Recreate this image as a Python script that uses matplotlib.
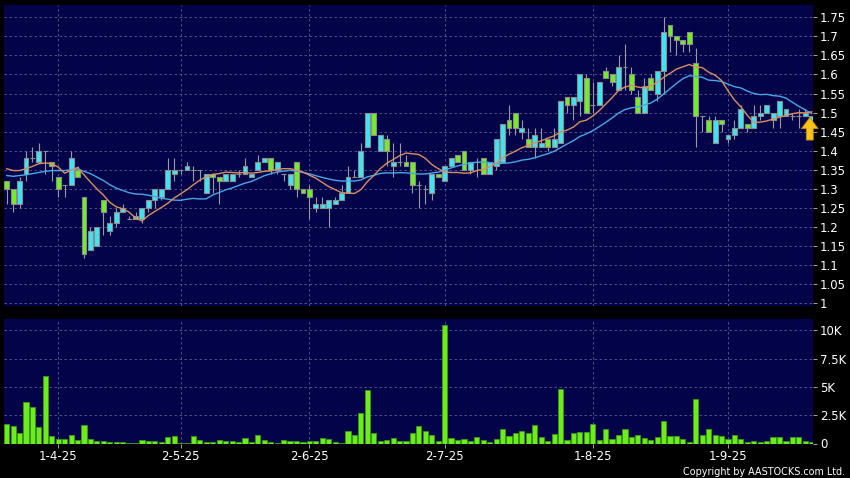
import matplotlib
matplotlib.use("Agg")
import matplotlib.pyplot as plt
import numpy as np
import pandas as pd

opens = [1.32, 1.30, 1.26, 1.34, 1.38, 1.37, 1.40, 1.37, 1.33, 1.31,
         1.31, 1.35, 1.28, 1.14, 1.15, 1.27, 1.19, 1.21, 1.24, 1.22,
         1.22, 1.22, 1.25, 1.27, 1.28, 1.30, 1.34, 1.35, 1.35, 1.35,
         1.35, 1.29, 1.34, 1.33, 1.32, 1.32, 1.34, 1.34, 1.33, 1.35,
         1.37, 1.38, 1.35, 1.34, 1.31, 1.37, 1.30, 1.30, 1.25, 1.25,
         1.25, 1.26, 1.27, 1.29, 1.33, 1.33, 1.41, 1.50, 1.40, 1.43,
         1.36, 1.37, 1.37, 1.37, 1.31, 1.30, 1.29, 1.34, 1.32, 1.36,
         1.39, 1.40, 1.35, 1.37, 1.38, 1.34, 1.36, 1.37, 1.48, 1.50,
         1.45, 1.43, 1.41, 1.41, 1.43, 1.41, 1.42, 1.54, 1.52, 1.53,
         1.59, 1.52, 1.52, 1.61, 1.60, 1.56, 1.62, 1.60, 1.54, 1.50,
         1.59, 1.55, 1.61, 1.73, 1.70, 1.69, 1.71, 1.63, 1.49, 1.48,
         1.42, 1.48, 1.43, 1.44, 1.46, 1.47, 1.46, 1.49, 1.50, 1.48,
         1.49, 1.49, 1.49, 1.49, 1.49, 1.46]
highs = [1.32, 1.30, 1.33, 1.40, 1.41, 1.42, 1.40, 1.37, 1.33, 1.31,
         1.40, 1.36, 1.28, 1.20, 1.20, 1.27, 1.23, 1.25, 1.26, 1.23,
         1.24, 1.25, 1.27, 1.30, 1.30, 1.38, 1.38, 1.35, 1.37, 1.36,
         1.35, 1.34, 1.34, 1.33, 1.34, 1.34, 1.35, 1.38, 1.34, 1.39,
         1.38, 1.38, 1.37, 1.34, 1.34, 1.37, 1.30, 1.31, 1.28, 1.28,
         1.27, 1.28, 1.31, 1.36, 1.35, 1.42, 1.50, 1.50, 1.44, 1.44,
         1.42, 1.42, 1.39, 1.37, 1.32, 1.31, 1.34, 1.34, 1.36, 1.38,
         1.39, 1.40, 1.37, 1.38, 1.38, 1.37, 1.43, 1.47, 1.52, 1.50,
         1.48, 1.46, 1.46, 1.46, 1.43, 1.46, 1.53, 1.54, 1.54, 1.60,
         1.60, 1.58, 1.58, 1.62, 1.60, 1.65, 1.68, 1.62, 1.56, 1.59,
         1.60, 1.61, 1.75, 1.73, 1.70, 1.69, 1.71, 1.67, 1.49, 1.49,
         1.49, 1.48, 1.44, 1.48, 1.52, 1.47, 1.52, 1.52, 1.52, 1.50,
         1.53, 1.51, 1.50, 1.51, 1.51, 1.49]
lows = [1.26, 1.24, 1.25, 1.32, 1.37, 1.37, 1.34, 1.32, 1.28, 1.28,
        1.31, 1.33, 1.12, 1.14, 1.15, 1.18, 1.18, 1.20, 1.24, 1.22,
        1.22, 1.21, 1.24, 1.25, 1.27, 1.30, 1.32, 1.34, 1.35, 1.32,
        1.32, 1.29, 1.29, 1.26, 1.32, 1.32, 1.33, 1.34, 1.33, 1.35,
        1.37, 1.34, 1.34, 1.32, 1.30, 1.28, 1.29, 1.22, 1.24, 1.25,
        1.20, 1.26, 1.27, 1.29, 1.33, 1.33, 1.41, 1.44, 1.40, 1.36,
        1.33, 1.36, 1.36, 1.29, 1.25, 1.26, 1.27, 1.33, 1.32, 1.36,
        1.37, 1.35, 1.34, 1.33, 1.34, 1.34, 1.35, 1.37, 1.44, 1.44,
        1.43, 1.41, 1.38, 1.41, 1.40, 1.41, 1.42, 1.50, 1.48, 1.49,
        1.50, 1.50, 1.52, 1.59, 1.57, 1.56, 1.56, 1.55, 1.50, 1.50,
        1.56, 1.53, 1.55, 1.66, 1.65, 1.66, 1.66, 1.41, 1.45, 1.45,
        1.42, 1.45, 1.42, 1.43, 1.46, 1.45, 1.46, 1.48, 1.50, 1.46,
        1.46, 1.49, 1.48, 1.46, 1.49, 1.46]
closes = [1.30, 1.26, 1.32, 1.38, 1.38, 1.40, 1.40, 1.36, 1.30, 1.31,
          1.38, 1.33, 1.13, 1.19, 1.20, 1.24, 1.21, 1.24, 1.25, 1.22,
          1.23, 1.25, 1.27, 1.30, 1.30, 1.35, 1.35, 1.35, 1.36, 1.35,
          1.35, 1.34, 1.33, 1.32, 1.34, 1.34, 1.34, 1.36, 1.34, 1.37,
          1.38, 1.35, 1.37, 1.34, 1.34, 1.30, 1.29, 1.28, 1.26, 1.26,
          1.27, 1.27, 1.29, 1.33, 1.33, 1.40, 1.50, 1.44, 1.44, 1.40,
          1.37, 1.37, 1.36, 1.31, 1.31, 1.30, 1.34, 1.33, 1.36, 1.38,
          1.37, 1.35, 1.37, 1.37, 1.34, 1.37, 1.43, 1.47, 1.46, 1.46,
          1.46, 1.41, 1.44, 1.42, 1.41, 1.43, 1.53, 1.52, 1.54, 1.60,
          1.50, 1.52, 1.58, 1.59, 1.58, 1.62, 1.62, 1.56, 1.50, 1.57,
          1.56, 1.61, 1.71, 1.70, 1.69, 1.68, 1.68, 1.49, 1.49, 1.45,
          1.48, 1.47, 1.44, 1.46, 1.51, 1.46, 1.49, 1.50, 1.52, 1.50,
          1.53, 1.51, 1.49, 1.49, 1.50, 1.49]
volumes = [1760, 1560, 940, 3680, 3180, 1470, 5940, 650, 440, 440,
           740, 290, 1590, 440, 240, 260, 120, 120, 150, 60,
           20, 290, 180, 180, 90, 560, 680, 30, 60, 650,
           350, 120, 90, 290, 260, 260, 150, 470, 120, 760,
           290, 120, 30, 350, 210, 260, 90, 180, 240, 500,
           380, 90, 60, 1090, 790, 2650, 4760, 910, 210, 290,
           500, 180, 180, 940, 1560, 1120, 740, 210, 10440, 500,
           290, 410, 240, 560, 350, 120, 380, 1240, 620, 970,
           1120, 940, 1620, 530, 260, 850, 4850, 350, 970, 1000,
           1000, 1760, 320, 1320, 440, 740, 1240, 590, 710, 500,
           350, 530, 1970, 650, 680, 380, 150, 3910, 740, 1320,
           760, 620, 380, 790, 440, 120, 240, 120, 260, 530,
           530, 240, 560, 590, 240, 120]

# moving averages before enough bars are on the chart
ma10_head = [1.353, 1.348, 1.348, 1.353, 1.359, 1.366, 1.368, 1.366, 1.357]
ma20_head = [1.335, 1.333, 1.335, 1.337, 1.340, 1.343, 1.346, 1.348, 1.348, 1.348,
             1.350, 1.352, 1.346, 1.340, 1.331, 1.322, 1.311, 1.302, 1.296]

date_pos = [8, 27, 47, 68, 91, 112]
date_labels = ["1-4-25", "2-5-25", "2-6-25", "2-7-25", "1-8-25", "1-9-25"]
price_ticks = [1.0, 1.05, 1.1, 1.15, 1.2, 1.25, 1.3, 1.35, 1.4, 1.45, 1.5,
               1.55, 1.6, 1.65, 1.7, 1.75]
price_labels = ["1", "1.05", "1.1", "1.15", "1.2", "1.25", "1.3", "1.35", "1.4",
                "1.45", "1.5", "1.55", "1.6", "1.65", "1.7", "1.75"]
vol_ticks = [0, 2500, 5000, 7500, 10000]
vol_labels = ["0", "2.5K", "5K", "7.5K", "10K"]

bg = "#03034a"
grid_c = "#5c5c8c"
up_c = "#3ee4f2"
down_c = "#74ee24"

n = len(closes)
x = np.arange(n)
o = np.array(opens)
c = np.array(closes)

ma10 = pd.Series(closes).rolling(10).mean().values
ma10[:9] = ma10_head
ma20 = pd.Series(closes).rolling(20).mean().values
ma20[:19] = ma20_head

fig = plt.figure(figsize=(8.5, 4.78), dpi=100, facecolor="black")
ax = fig.add_axes([4 / 850, 1 - 306 / 478, 809 / 850, 301 / 478])
axv = fig.add_axes([4 / 850, 1 - 443.5 / 478, 809 / 850, 124.5 / 478])

for a in (ax, axv):
    a.set_facecolor(bg)
    for s in a.spines.values():
        s.set_visible(False)
    a.set_xlim(-0.42, 125.2)
    a.set_xticks(date_pos)
    a.grid(True, color=grid_c, linestyle=(0, (3, 3)), linewidth=0.6)
    a.set_axisbelow(True)
    a.yaxis.tick_right()
    a.tick_params(axis="y", colors="white", labelsize=8.5, length=3, width=0.6,
                  pad=2, color="#bbbbbb")

# candles
cols = [up_c if c[i] > o[i] else (down_c if c[i] < o[i] else "#888888") for i in range(n)]
ax.vlines(x, lows, highs, color="#9a9a9a", linewidth=0.8, zorder=2)
ax.bar(x, np.abs(c - o), bottom=np.minimum(o, c), width=0.76, color=cols,
       edgecolor="#8c8c8c", linewidth=0.8, zorder=3)
ax.plot(x, ma20, color="#4aa6e6", linewidth=1.0, zorder=4)
ax.plot(x, ma10, color="#d98e62", linewidth=1.0, zorder=4)

ax.annotate("", xy=(n - 1 - 0.3, c[-1] - 0.003), xytext=(n - 1 - 0.3, c[-1] - 0.062),
            arrowprops=dict(facecolor="#f7c21a", edgecolor="#c98a00", width=5,
                            headwidth=12, headlength=8, linewidth=0.6), zorder=6)

ax.set_ylim(0.993, 1.782)
ax.set_yticks(price_ticks)
ax.set_yticklabels(price_labels)
ax.tick_params(axis="x", length=0, labelbottom=False)

axv.bar(x, volumes, width=0.8, color="#6cec1c", edgecolor="#3a9a10", linewidth=0.6, zorder=3)
axv.set_ylim(0, 10990)
axv.set_yticks(vol_ticks)
axv.set_yticklabels(vol_labels)
axv.set_xticklabels(date_labels)
axv.tick_params(axis="x", colors="white", labelsize=8.5, length=3, width=0.6,
                color="#bbbbbb", pad=2)

fig.text(0.994, 0.003, "Copyright by AASTOCKS.com Ltd.", ha="right", va="bottom",
         color="white", fontsize=6.9)

fig.savefig("out.png", dpi=100, facecolor="black")
